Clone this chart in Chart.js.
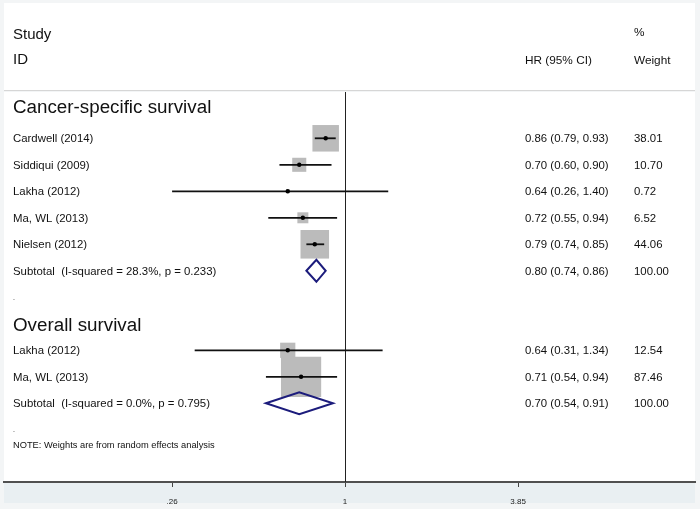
<!DOCTYPE html>
<html>
<head>
<meta charset="utf-8">
<script src="https://cdn.jsdelivr.net/npm/chart.js@4"></script>
<style>
  html, body { margin: 0; padding: 0; background: #f3f5f6; }
  canvas { display: block; }
</style>
</head>
<body>
<canvas id="forest" width="700" height="509"></canvas>
<script>
// individual studies, one per plot row
const labels = ['Cardwell (2014)', 'Siddiqui (2009)', 'Lakha (2012)', 'Ma, WL (2013)', 'Nielsen (2012)', 'Lakha (2012)', 'Ma, WL (2013)'];
const rows = [1, 2, 3, 4, 5, 9, 10];
const hr = [0.86, 0.70, 0.64, 0.72, 0.79, 0.64, 0.71];
const lower = [0.79, 0.60, 0.26, 0.55, 0.74, 0.31, 0.54];
const upper = [0.93, 0.90, 1.40, 0.94, 0.85, 1.34, 0.94];
const weights = [38.01, 10.70, 0.72, 6.52, 44.06, 12.54, 87.46];

// pooled subtotals
const subLabels = ['Subtotal  (I-squared = 28.3%, p = 0.233)', 'Subtotal  (I-squared = 0.0%, p = 0.795)'];
const subRows = [6, 11];
const subHr = [0.80, 0.70];
const subLower = [0.74, 0.54];
const subUpper = [0.86, 0.91];
const subWeights = [100.00, 100.00];

const groups = ['Cancer-specific survival', 'Overall survival'];
const groupRows = [-0.22, 8];
const blankRows = [7, 12];
const noteRow = 12.57;

const tickValues = [0.26, 1, 3.85];
const tickLabels = ['.26', '1', '3.85'];

const FONT = "'Liberation Sans', Arial, sans-serif";
const fmt = v => v.toFixed(2);
const boxSide = w => 4.3 * Math.sqrt(w);

const frame = {
  id: 'frame',
  beforeDraw(chart) {
    const { ctx, chartArea: a } = chart;
    ctx.save();
    ctx.fillStyle = '#f3f5f6';
    ctx.fillRect(0, 0, chart.width, chart.height);
    ctx.fillStyle = '#ffffff';
    ctx.fillRect(a.left, 3, a.right - a.left, 87);
    ctx.fillStyle = '#d6d6d6';
    ctx.fillRect(a.left, 90, a.right - a.left, 1);
    ctx.fillStyle = '#ffffff';
    ctx.fillRect(a.left, a.top, a.right - a.left, a.bottom - a.top);
    ctx.fillStyle = '#e9eff2';
    ctx.fillRect(a.left, a.bottom, a.right - a.left, 21);
    ctx.restore();
  },
  beforeDatasetsDraw(chart) {
    const { ctx, chartArea: a, scales: { x } } = chart;
    const px = Math.round(x.getPixelForValue(1)) + 0.5;
    ctx.save();
    ctx.strokeStyle = '#222';
    ctx.lineWidth = 1;
    ctx.beginPath();
    ctx.moveTo(px, a.top);
    ctx.lineTo(px, a.bottom);
    ctx.stroke();
    ctx.restore();
  },
  afterDatasetsDraw(chart) {
    const { ctx, scales: { x, y } } = chart;
    ctx.save();
    ctx.strokeStyle = '#1c1c7c';
    ctx.lineWidth = 2;
    ctx.lineJoin = 'miter';
    subRows.forEach((r, i) => {
      const cy = y.getPixelForValue(r);
      const h = 11;
      ctx.beginPath();
      ctx.moveTo(x.getPixelForValue(subLower[i]), cy);
      ctx.lineTo(x.getPixelForValue(subHr[i]), cy - h);
      ctx.lineTo(x.getPixelForValue(subUpper[i]), cy);
      ctx.lineTo(x.getPixelForValue(subHr[i]), cy + h);
      ctx.closePath();
      ctx.stroke();
    });
    ctx.restore();
  },
  afterDraw(chart) {
    const { ctx, scales: { y } } = chart;
    const colLabel = 13, colHr = 525, colW = 634;
    ctx.save();
    ctx.fillStyle = '#111';
    ctx.textBaseline = 'alphabetic';
    ctx.textAlign = 'left';

    ctx.font = '15px ' + FONT;
    ctx.fillText('Study', colLabel, 38.7);
    ctx.fillText('ID', colLabel, 64.3);
    ctx.font = '11.8px ' + FONT;
    ctx.fillText('HR (95% CI)', colHr, 63.5);
    ctx.fillText('%', colW, 36);
    ctx.fillText('Weight', colW, 63.5);

    ctx.font = '18.8px ' + FONT;
    groups.forEach((g, i) => ctx.fillText(g, colLabel, y.getPixelForValue(groupRows[i]) + 6.8));

    ctx.font = '11.4px ' + FONT;
    labels.forEach((name, i) => {
      const by = y.getPixelForValue(rows[i]) + 4;
      ctx.fillText(name, colLabel, by);
      ctx.fillText(fmt(hr[i]) + ' (' + fmt(lower[i]) + ', ' + fmt(upper[i]) + ')', colHr, by);
      ctx.fillText(fmt(weights[i]), colW, by);
    });
    subLabels.forEach((name, i) => {
      const by = y.getPixelForValue(subRows[i]) + 4;
      ctx.fillText(name, colLabel, by);
      ctx.fillText(fmt(subHr[i]) + ' (' + fmt(subLower[i]) + ', ' + fmt(subUpper[i]) + ')', colHr, by);
      ctx.fillText(fmt(subWeights[i]), colW, by);
    });

    ctx.font = '7px ' + FONT;
    blankRows.forEach(r => ctx.fillText('.', colLabel, y.getPixelForValue(r) + 2.5));

    ctx.font = '9.3px ' + FONT;
    ctx.fillText('NOTE: Weights are from random effects analysis', colLabel, y.getPixelForValue(noteRow) + 3);
    ctx.restore();
  }
};

const ciSets = labels.map((name, i) => ({
  label: name,
  data: [{ x: lower[i], y: rows[i] }, { x: upper[i], y: rows[i] }],
  showLine: true,
  borderColor: '#111',
  borderWidth: 1.8,
  pointRadius: 0,
  order: 2
}));

new Chart(document.getElementById('forest'), {
  type: 'scatter',
  data: {
    datasets: [
      {
        label: 'weight',
        data: hr.map((v, i) => ({ x: v, y: rows[i] })),
        pointStyle: 'rect',
        pointRadius: c => boxSide(weights[c.dataIndex]) / Math.SQRT2,
        backgroundColor: '#bbbbbb',
        borderWidth: 0,
        order: 3
      },
      ...ciSets,
      {
        label: 'HR',
        data: hr.map((v, i) => ({ x: v, y: rows[i] })),
        pointStyle: 'circle',
        pointRadius: 2.2,
        backgroundColor: '#000',
        borderWidth: 0,
        order: 1
      }
    ]
  },
  options: {
    responsive: false,
    animation: false,
    events: [],
    layout: { autoPadding: false, padding: { left: 4, right: 5, top: 92, bottom: 0 } },
    plugins: { legend: { display: false }, tooltip: { enabled: false } },
    scales: {
      x: {
        type: 'logarithmic',
        min: 0.0702,
        max: 15.27,
        afterFit: s => { s.height = 27; s.paddingLeft = 0; s.paddingRight = 0; },
        afterBuildTicks: s => { s.ticks = tickValues.map(v => ({ value: v })); },
        ticks: {
          autoSkip: false,
          maxRotation: 0,
          padding: 10,
          color: '#222',
          font: { family: FONT, size: 8 },
          callback: v => tickLabels[tickValues.indexOf(v)]
        },
        grid: { drawOnChartArea: false, drawTicks: true, tickLength: 5, tickColor: '#444', tickWidth: 1 },
        border: { display: true, color: '#505050', width: 2 }
      },
      y: {
        type: 'linear',
        display: false,
        reverse: true,
        min: -0.747,
        max: 13.97
      }
    }
  },
  plugins: [frame]
});
</script>
</body>
</html>
